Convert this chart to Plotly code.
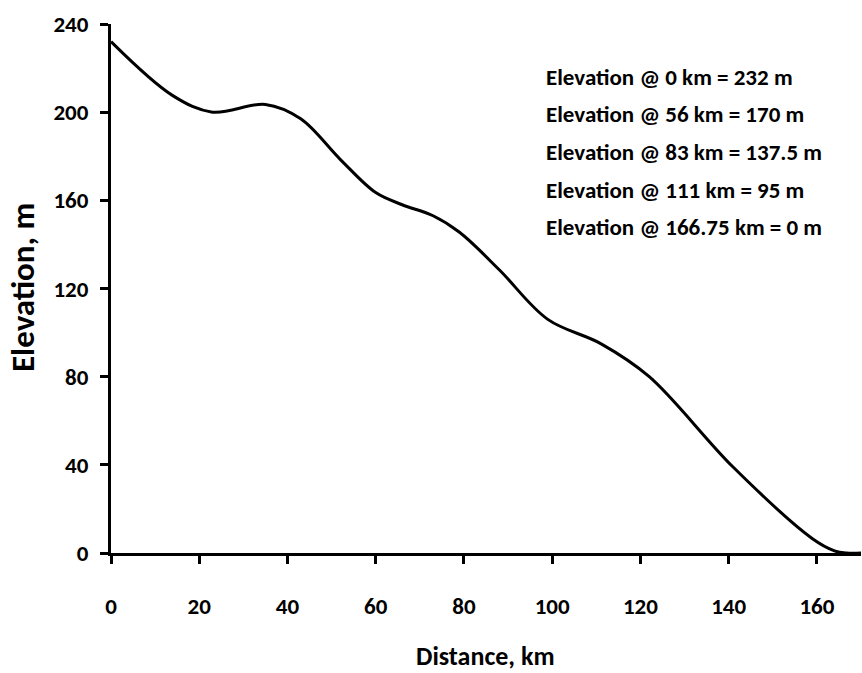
import plotly.graph_objects as go

# Elevation profile along the route
distance_km = [0, 14, 23, 35, 43, 52, 60, 66, 73, 79, 88, 99, 111, 122, 141, 159, 164, 166.75, 170]
elevation_m = [232, 207.5, 200, 203.5, 197, 178.5, 163.5, 158, 153, 145.5, 128.5, 106, 95, 80, 39, 6.5, 1.0, 0, 0]

x_ticks = [0, 20, 40, 60, 80, 100, 120, 140, 160]
y_ticks = [0, 40, 80, 120, 160, 200, 240]

notes = [
    "Elevation @ 0 km = 232 m",
    "Elevation @ 56 km = 170 m",
    "Elevation @ 83 km = 137.5 m",
    "Elevation @ 111 km = 95 m",
    "Elevation @ 166.75 km = 0 m",
]

FONT = "Carlito, Liberation Sans, Arial, sans-serif"

fig = go.Figure()
fig.add_trace(go.Scatter(
    x=distance_km, y=elevation_m, mode="lines",
    line=dict(color="black", width=3, shape="spline", smoothing=1.0),
    showlegend=False, hoverinfo="skip",
))

fig.update_layout(
    width=862, height=673,
    margin=dict(l=111, r=1, t=24, b=120),
    paper_bgcolor="white", plot_bgcolor="white",
    font=dict(family=FONT, color="black"),
    xaxis=dict(
        range=[0, 170], tickvals=x_ticks, ticks="outside", ticklen=8, tickwidth=3,
        tickcolor="black", showline=True, linecolor="black", linewidth=3,
        showgrid=False, zeroline=False, ticklabelstandoff=22,
        tickfont=dict(family=FONT, size=23, color="black", weight="bold"),
    ),
    yaxis=dict(
        range=[0, 240], tickvals=y_ticks, ticks="outside", ticklen=8, tickwidth=3,
        tickcolor="black", showline=True, linecolor="black", linewidth=3,
        showgrid=False, zeroline=False, ticklabelstandoff=7,
        tickfont=dict(family=FONT, size=23, color="black", weight="bold"),
    ),
)

# Axis titles
fig.add_annotation(
    text="<b>Distance, km</b>", xref="paper", yref="paper",
    x=(485 - 111) / 750, y=-(656 - 553) / 529, xanchor="center", yanchor="middle",
    showarrow=False, font=dict(family=FONT, size=26, color="black"),
)
fig.add_annotation(
    text="<b>Elevation, m</b>", xref="paper", yref="paper",
    x=-(111 - 23) / 750, y=(553 - 288) / 529, xanchor="center", yanchor="middle",
    textangle=-90, showarrow=False, font=dict(family=FONT, size=33, color="black"),
)

# Reference elevations listed in the upper right
for i, line in enumerate(notes):
    fig.add_annotation(
        text=f"<b>{line}</b>", xref="paper", yref="paper",
        x=(544 - 111) / 750, y=(553 - (77 + 37.5 * i)) / 529,
        xanchor="left", yanchor="middle", showarrow=False,
        font=dict(family=FONT, size=23, color="black"),
    )

fig.write_html("out.html")
